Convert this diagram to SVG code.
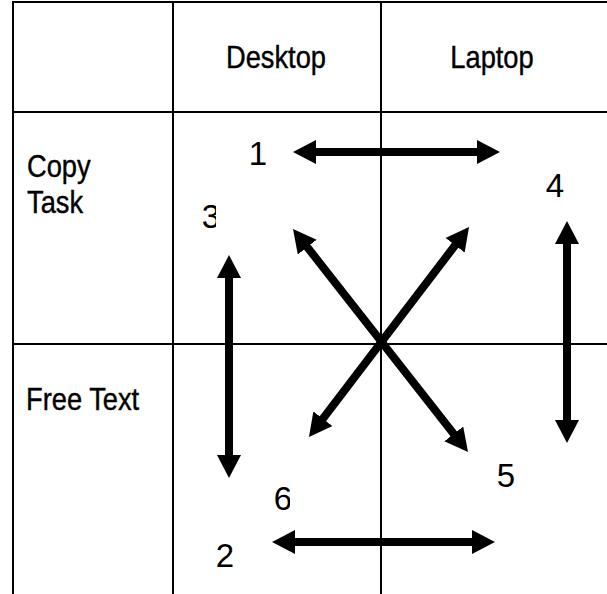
<svg xmlns="http://www.w3.org/2000/svg" width="607" height="594" viewBox="0 0 607 594">
<style>
.grid{stroke:#000;stroke-width:2;fill:none}
.arr{stroke:#000;stroke-width:8;fill:none;marker-start:url(#ah);marker-end:url(#ah)}
.lbl{font-family:"Liberation Sans",Arial,sans-serif;font-size:31px;fill:#000;stroke:#000;stroke-width:0.4}
.num{font-family:"Liberation Sans",Arial,sans-serif;font-size:33px;fill:#000;text-anchor:middle}
</style>
<defs>
<marker id="ah" viewBox="0 -12 23 24" markerWidth="23" markerHeight="24" refX="1" refY="0" markerUnits="userSpaceOnUse" orient="auto-start-reverse">
<path d="M0,-12 L23,0 L0,12 Z" fill="#000"/>
</marker>
<clipPath id="c3"><rect x="190" y="190" width="26" height="50"/></clipPath>
<clipPath id="c6"><rect x="260" y="470" width="30" height="50"/></clipPath>
</defs>
<rect width="607" height="594" fill="#fff"/>
<g id="grid">
<line class="grid" x1="12" y1="2" x2="607" y2="2"/>
<line class="grid" x1="13" y1="1" x2="13" y2="594"/>
<line class="grid" x1="173" y1="1" x2="173" y2="594"/>
<line class="grid" x1="381" y1="1" x2="381" y2="594"/>
<line class="grid" x1="12" y1="112" x2="607" y2="112"/>
<line class="grid" x1="12" y1="344" x2="607" y2="344"/>
</g>
<g id="headers">
<text class="lbl" transform="translate(276,68) scale(0.88,1)" text-anchor="middle">Desktop</text>
<text class="lbl" transform="translate(492,68) scale(0.88,1)" text-anchor="middle">Laptop</text>
<text class="lbl" transform="translate(27,177) scale(0.88,1)">Copy</text>
<text class="lbl" transform="translate(27,213) scale(0.88,1)">Task</text>
<text class="lbl" transform="translate(26,410) scale(0.88,1)">Free Text</text>
</g>
<g id="connectors">
<line class="arr" x1="315" y1="152" x2="478" y2="152"/>
<line class="arr" x1="294" y1="542" x2="473" y2="542"/>
<line class="arr" x1="229" y1="277" x2="229" y2="456"/>
<line class="arr" x1="567" y1="243" x2="567" y2="421"/>
<line class="arr" x1="306.6" y1="246.3" x2="454.4" y2="434.7"/>
<line class="arr" x1="455.7" y1="244.5" x2="322.3" y2="419.5"/>
</g>
<g id="numbers">
<text class="num" x="258" y="165">1</text>
<text class="num" x="211" y="228" clip-path="url(#c3)">3</text>
<text class="num" x="555" y="197">4</text>
<text class="num" x="506" y="487">5</text>
<text class="num" x="283" y="510" clip-path="url(#c6)">6</text>
<text class="num" x="225" y="567">2</text>
</g>
</svg>
